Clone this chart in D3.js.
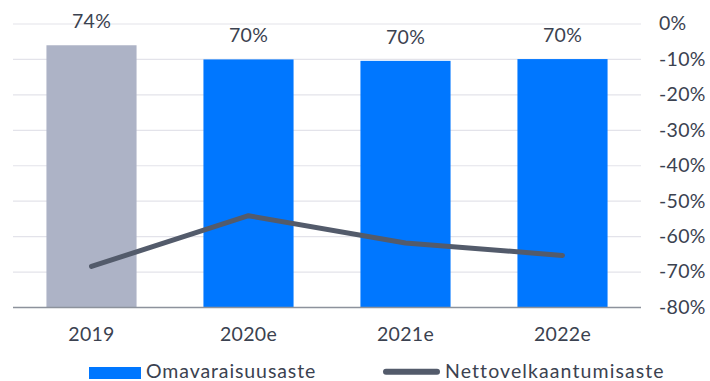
<!DOCTYPE html>
<html><head><meta charset="utf-8">
<script src="https://cdn.jsdelivr.net/npm/d3@7"></script>
<style>
html,body{margin:0;padding:0;background:#fff;}
svg text{font-family:Lato,"Open Sans",sans-serif;fill:#3b4250;letter-spacing:0.3px;}
</style></head>
<body><svg id="c" width="710" height="381"></svg>
<script>
const categories = ["2019","2020e","2021e","2022e"];
const equityRatio = [74.0, 70.0, 69.6, 70.1];
const netGearing = [-68.4, -54.1, -61.8, -65.3];
const rightTicks = [0,-10,-20,-30,-40,-50,-60,-70,-80];
const seriesNames = ["Omavaraisuusaste","Nettovelkaantumisaste"];

(function(){
const svg = d3.select("#c");
const pL = 13, pR = 641, pT = 24, pB = 307.5;
const FS = 19.5;

const x = d3.scaleBand().domain(categories).range([pL, pR]).paddingInner(0.426).paddingOuter(0.213);
const yBar = d3.scaleLinear().domain([0, 80]).range([pB, pT]);
const yLine = d3.scaleLinear().domain([-80, 0]).range([pB, pT]);

svg.append("g").selectAll("line").data(rightTicks.filter(d=>d>-80)).join("line")
  .attr("x1", pL).attr("x2", pR)
  .attr("y1", d=>yLine(d)).attr("y2", d=>yLine(d))
  .attr("stroke", "#e3e3ea").attr("stroke-width", 1.2);

svg.append("g").selectAll("rect").data(categories).join("rect")
  .attr("x", d=>x(d)).attr("width", x.bandwidth())
  .attr("y", (d,i)=>yBar(equityRatio[i]))
  .attr("height", (d,i)=>pB - yBar(equityRatio[i]))
  .attr("fill", (d,i)=> i===0 ? "#adb3c6" : "#0077ff");

svg.append("g").selectAll("text").data(categories).join("text")
  .attr("x", d=>x(d)+x.bandwidth()/2)
  .attr("y", (d,i)=>yBar(equityRatio[i]) - 17)
  .attr("text-anchor","middle").attr("font-size", FS)
  .text((d,i)=>Math.round(equityRatio[i])+"%");

svg.append("line").attr("x1", pL).attr("x2", pR).attr("y1", pB).attr("y2", pB)
  .attr("stroke", "#8d929c").attr("stroke-width", 1.5);

const xAxis = d3.axisBottom(x).tickSize(0).tickPadding(0);
const gx = svg.append("g").attr("transform", `translate(0,${pB})`).call(xAxis);
gx.select(".domain").remove();
gx.selectAll("text").attr("y", 33.5).attr("dy", 0).attr("font-size", FS).style("font-family","Lato,'Open Sans',sans-serif").attr("fill","#3b4250");

const yAxis = d3.axisRight(yLine).tickValues(rightTicks).tickSize(0).tickPadding(0).tickFormat(d=>d+"%");
const gy = svg.append("g").attr("transform", `translate(659,0)`).call(yAxis);
gy.select(".domain").remove();
gy.selectAll("text").attr("x", 0).attr("dy","0.3em").attr("font-size", FS).style("font-family","Lato,'Open Sans',sans-serif").attr("fill","#3b4250");

const line = d3.line().x((d,i)=>x(categories[i])+x.bandwidth()/2).y(d=>yLine(d));
svg.append("path").datum(netGearing).attr("d", line)
  .attr("fill","none").attr("stroke","#535b6b").attr("stroke-width",5).attr("stroke-linecap","round").attr("stroke-linejoin","round");

const lg = svg.append("g");
lg.append("rect").attr("x",89).attr("y",367).attr("width",52).attr("height",12).attr("fill","#0077ff");
lg.append("text").attr("x",146).attr("y",378).attr("font-size",FS).style("letter-spacing","0.9px").text(seriesNames[0]);
lg.append("line").attr("x1",386).attr("x2",437).attr("y1",371.7).attr("y2",371.7)
  .attr("stroke","#535b6b").attr("stroke-width",6).attr("stroke-linecap","round");
lg.append("text").attr("x",445).attr("y",378).attr("font-size",FS).style("letter-spacing","1.1px").text(seriesNames[1]);
})();
</script></body></html>
